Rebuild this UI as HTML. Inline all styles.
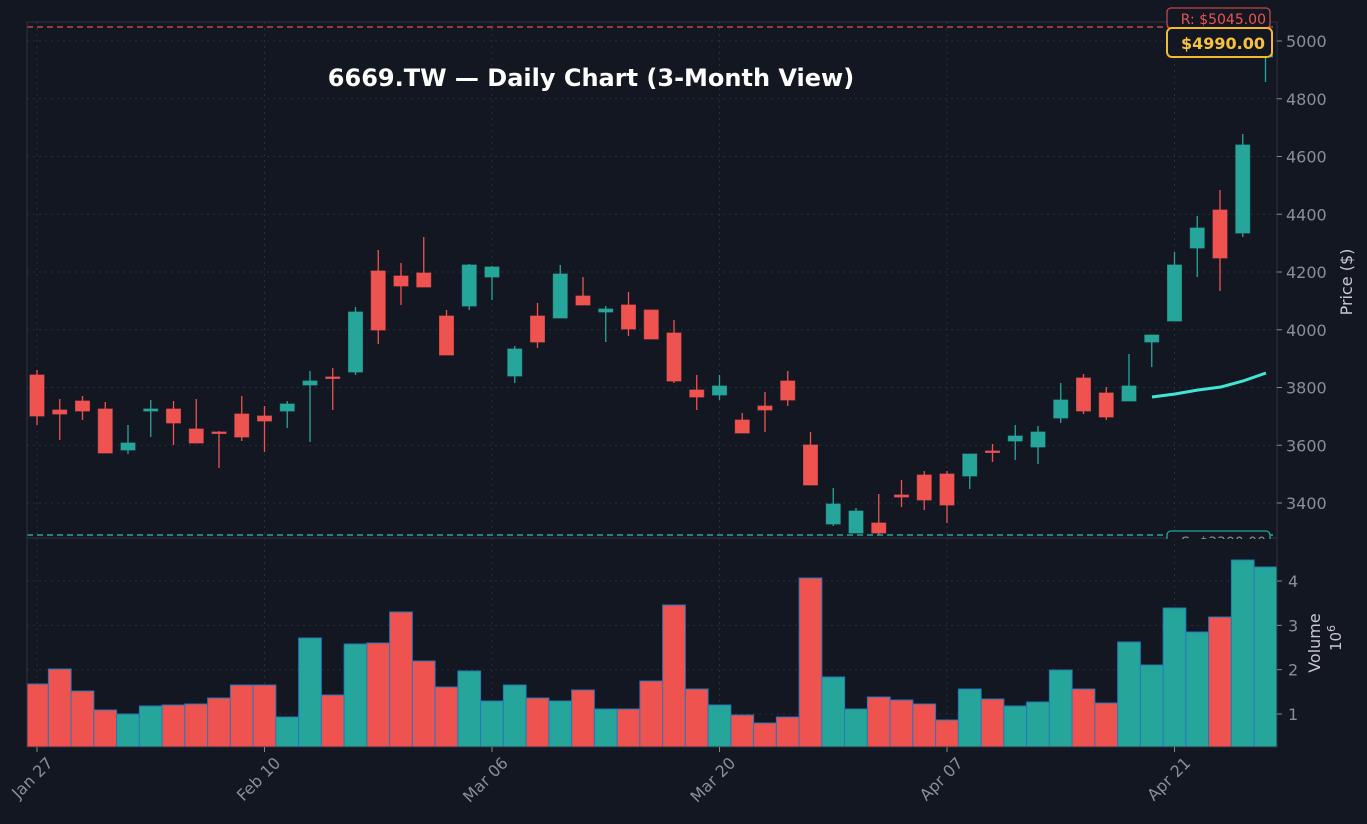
<!DOCTYPE html>
<html><head><meta charset="utf-8"><style>
html,body{margin:0;padding:0;background:#131722;}
svg{display:block;font-family:"DejaVu Sans","Liberation Sans",sans-serif;}
</style></head><body>
<svg id="c" width="1367" height="824" viewBox="0 0 1367 824" xmlns="http://www.w3.org/2000/svg">
<rect width="1367" height="824" fill="#131722"/>
<g id="grid" stroke="#2a2e39" stroke-width="1" stroke-dasharray="2,4"></g>
<g id="cands"></g>
<g id="vols"></g>
<g id="axes"></g>
</svg>
<script>
const NS="http://www.w3.org/2000/svg";
function el(p,t,a,txt){const e=document.createElementNS(NS,t);for(const k in a)e.setAttribute(k,a[k]);if(txt!==undefined)e.textContent=txt;p.appendChild(e);return e;}
const svg=document.getElementById('c');
const grid=document.getElementById('grid'),cg=document.getElementById('cands'),vg=document.getElementById('vols'),ax=document.getElementById('axes');
const G="#26a69a",R="#ef5350";
const X=i=>37+22.75*i;
const py=p=>41+(5000-p)*0.28875;
for(let p=3400;p<=5000;p+=200){el(grid,'line',{x1:27,x2:1277,y1:py(p),y2:py(p)});}
const vy=v=>714-(v-1)*44.33;
for(let v=1;v<=4;v++){el(grid,'line',{x1:27,x2:1277,y1:vy(v),y2:vy(v)});}
const xt=[[0,"Jan 27"],[10,"Feb 10"],[20,"Mar 06"],[30,"Mar 20"],[40,"Apr 07"],[50,"Apr 21"]];
xt.forEach(([i])=>{el(grid,'line',{x1:X(i),x2:X(i),y1:22,y2:746});});
const C=[
['r',375,416,370,425],['r',410,414,399,440],['r',401,411,396,420],['r',409,453,402,453],['g',443,450,425,454],
['g',409,411,400,437],['r',409,423,401,445],['r',429,443,399,443],['r',432,433,431,468],['r',414,437,396,441],
['r',416,421,406,452],['g',404,411,401,428],['g',381,385,371,442],['r',377,378,368,410],['g',312,372,307,375],
['r',271,330,250,344],['r',276,286,263,305],['r',273,287,237,287],['r',316,355,310,355],['g',265,306,264,310],
['g',267,277,266,300],['g',349,376,346,383],['r',316,342,303,348],['g',274,318,265,318],['r',296,305,277,305],
['g',309,312,306,342],['r',305,329,292,336],['r',310,339,310,339],['r',333,381,320,383],['r',390,397,375,410],
['g',386,395,375,400],['r',420,433,413,433],['r',406,410,392,432],['r',381,400,371,406],['r',445,485,432,485],
['g',504,524,488,526],['g',511,533,508,533],['r',523,533,494,535],['r',495,497,480,507],['r',475,500,471,510],
['r',474,505,471,523],['g',454,476,454,489],['r',451,452,444,462],['g',436,441,425,460],['g',432,447,426,464],
['g',400,418,383,423],['r',378,411,374,414],['r',393,417,387,420],['g',386,401,354,401],['g',335,342,335,367],
['g',265,321,252,321],['g',228,248,216,277],['r',210,258,190,291],['g',145,233,134,237],['g',44,57,40,82]
];
const clip=el(svg,'clipPath',{id:'pc'});el(clip,'rect',{x:27,y:22,width:1250,height:516});
cg.setAttribute('clip-path','url(#pc)');
C.forEach((c,i)=>{const x=X(i),col=c[0]=='r'?R:G;
el(cg,'line',{x1:x,x2:x,y1:c[3],y2:c[4],stroke:col,'stroke-width':1.3});
el(cg,'rect',{x:x-7,y:c[1],width:14,height:Math.max(1.5,c[2]-c[1]),fill:col,stroke:col,'stroke-opacity':0.7,'stroke-width':1});});
el(cg,'polyline',{points:"1152,397 1175,394 1198,390 1221,387 1243,381 1266,373",fill:"none",stroke:"#3ee6d4",'stroke-width':3});
const V=[['r',684],['r',669],['r',691],['r',710],['g',714],['g',706],['r',705],['r',704],['r',698],['r',685],
['r',685],['g',717],['g',638],['r',695],['g',644],['r',643],['r',612],['r',661],['r',687],['g',671],
['g',701],['g',685],['r',698],['g',701],['r',690],['g',709],['r',709],['r',681],['r',605],['r',689],
['g',705],['r',715],['r',723],['r',717],['r',578],['g',677],['g',709],['r',697],['r',700],['r',704],
['r',720],['g',689],['r',699],['g',706],['g',702],['g',670],['r',689],['r',703],['g',642],['g',665],
['g',608],['g',632],['r',617],['g',560],['g',567]];
V.forEach((v,i)=>{let l=X(i)-11.375,r=X(i)+11.375;if(l<27)l=27;if(r>1277)r=1277;
el(vg,'rect',{x:l,y:v[1],width:r-l,height:747-v[1],fill:v[0]=='r'?'#ef5350':'#26a69a',stroke:'#2677b8','stroke-width':1});});
el(ax,'line',{x1:27,x2:1277,y1:27,y2:27,stroke:R,'stroke-width':1.5,'stroke-dasharray':'6,4','stroke-opacity':0.8});
el(ax,'line',{x1:27,x2:1277,y1:535,y2:535,stroke:G,'stroke-width':1.5,'stroke-dasharray':'6,4'});
el(ax,'rect',{x:27,y:22,width:1250,height:516,fill:'none',stroke:'#2f3340','stroke-width':1});
el(ax,'rect',{x:27,y:538,width:1250,height:209,fill:'none',stroke:'#2f3340','stroke-width':1});
el(ax,'rect',{x:1167,y:8,width:103,height:20,rx:4,fill:'#131722',stroke:R,'stroke-width':1.3,'stroke-opacity':0.8});
el(ax,'text',{x:1266,y:24,'text-anchor':'end','font-size':14,fill:R},'R: $5045.00');
el(ax,'rect',{x:1167,y:28,width:105,height:29,rx:5,fill:'#131722',stroke:'#f5b82e','stroke-width':2});
el(ax,'text',{x:1265,y:49,'text-anchor':'end','font-size':16,'font-weight':'bold',fill:'#f7c23c'},'$4990.00');
const sc=el(svg,'clipPath',{id:'sc'});el(sc,'rect',{x:1160,y:520,width:120,height:19});
const sg=el(ax,'g',{'clip-path':'url(#sc)'});
el(sg,'rect',{x:1167,y:531,width:103,height:22,rx:4,fill:'#131722',stroke:G,'stroke-width':1.3});
el(sg,'text',{x:1266,y:547,'text-anchor':'end','font-size':14,fill:'#8a8e99'},'S: $3300.00');
for(let p=3400;p<=5000;p+=200){const y=py(p);el(ax,'line',{x1:1277,x2:1282,y1:y,y2:y,stroke:'#888',});
el(ax,'text',{x:1286,y:y+6,'font-size':16,fill:'#8a8e99'},String(p));}
for(let v=1;v<=4;v++){const y=vy(v);el(ax,'line',{x1:1277,x2:1282,y1:y,y2:y,stroke:'#888'});
el(ax,'text',{x:1288,y:y+6,'font-size':16,fill:'#8a8e99'},String(v));}
el(ax,'text',{x:1352,y:282,'font-size':16,fill:'#c8cad0','text-anchor':'middle',transform:'rotate(-90 1352 282)'},'Price ($)');
el(ax,'text',{x:1320,y:643,'font-size':16,fill:'#c8cad0','text-anchor':'middle',transform:'rotate(-90 1320 643)'},'Volume');
const t=el(ax,'text',{x:1341,y:638,'font-size':15,fill:'#c8cad0','text-anchor':'middle',transform:'rotate(-90 1341 638)'},'10');
el(t,'tspan',{dy:-6,'font-size':11},'6');
xt.forEach(([i,s])=>{const x=X(i);el(ax,'line',{x1:x,x2:x,y1:747,y2:752,stroke:'#888'});
el(ax,'text',{x:x+17,y:764,'font-size':16,fill:'#8a8e99','text-anchor':'end',transform:`rotate(-45 ${x+17} 764)`},s);});
el(ax,'text',{x:591,y:86,'font-size':24,'font-weight':'bold',fill:'#ffffff','text-anchor':'middle'},'6669.TW — Daily Chart (3-Month View)');
</script>
</body></html>
